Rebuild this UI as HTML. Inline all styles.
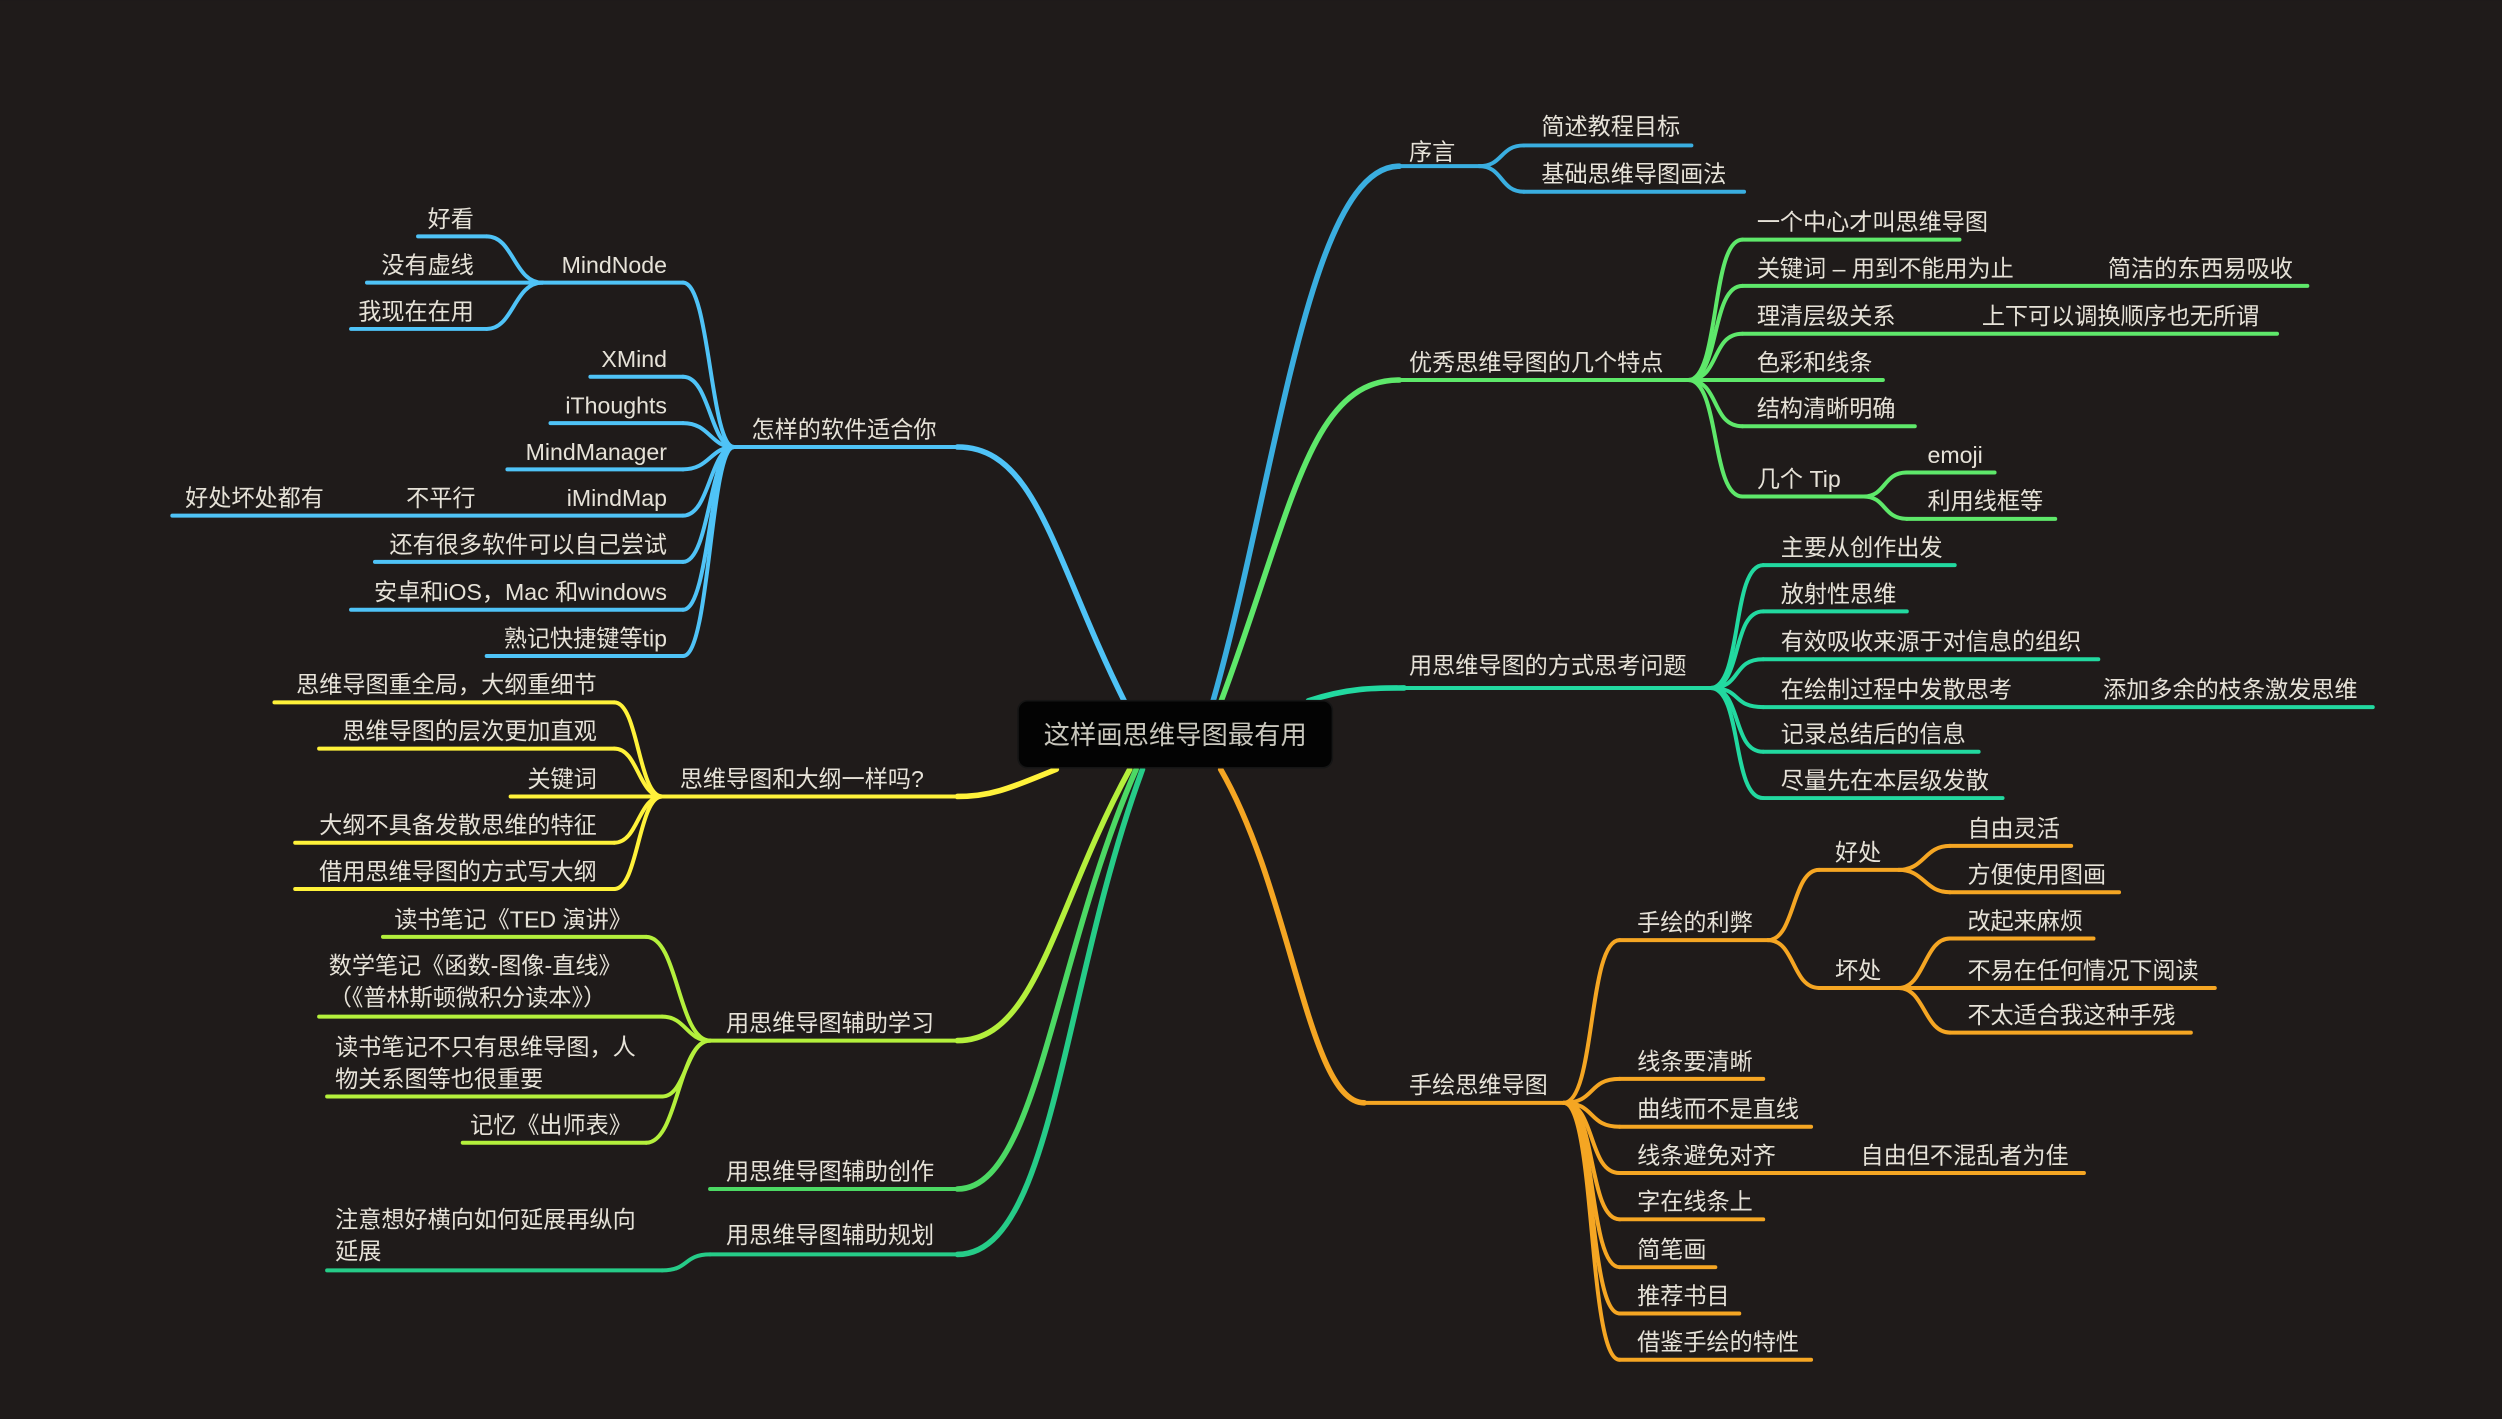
<!DOCTYPE html>
<html><head><meta charset="utf-8"><style>
html,body{margin:0;padding:0;background:#1f1b1a;}
svg{display:block}
text{font-family:"Liberation Sans","Noto Sans CJK SC",sans-serif;font-size:14.5px;fill:#e6e2d8;}
.l{text-anchor:end}
path,line{fill:none;stroke-linecap:round}
</style></head><body>
<svg width="2502" height="1419" viewBox="0 0 1568 889" xmlns="http://www.w3.org/2000/svg">
<rect width="1568" height="889" fill="#1f1b1a"/>

<!-- ===== RIGHT: 序言 (blue) ===== -->
<g stroke="#3aaee0">
<path d="M760 440 C800 300 820 104 877 104" stroke-width="3.5"/>
<line x1="877" y1="104" x2="927" y2="104" stroke-width="2.5"/>
<path d="M927 104 C942 104 940 91 955 91" stroke-width="2.5"/>
<path d="M927 104 C942 104 940 120 955 120" stroke-width="2.5"/>
<line x1="955" y1="91" x2="1060" y2="91" stroke-width="2.5"/>
<line x1="955" y1="120" x2="1093" y2="120" stroke-width="2.5"/>
</g>
<text x="883" y="100">序言</text>
<text x="966" y="84">简述教程目标</text>
<text x="966" y="114">基础思维导图画法</text>

<!-- ===== 优秀思维导图的几个特点 (green) ===== -->
<g stroke="#5ee86a" stroke-width="2.5">
<path d="M765 440 C810 320 820 238 877 238" stroke-width="3.5"/>
<line x1="877" y1="238" x2="1058" y2="238"/>
<path d="M1058 238 C1078 238 1072 150 1092 150"/><line x1="1092" y1="150" x2="1228" y2="150"/>
<path d="M1058 238 C1078 238 1072 179 1092 179"/><line x1="1092" y1="179" x2="1446" y2="179"/>
<path d="M1058 238 C1078 238 1072 209 1092 209"/><line x1="1092" y1="209" x2="1427" y2="209"/>
<line x1="1058" y1="238" x2="1180" y2="238"/>
<path d="M1058 238 C1078 238 1072 267 1092 267"/><line x1="1092" y1="267" x2="1200" y2="267"/>
<path d="M1058 238 C1078 238 1072 311 1092 311"/><line x1="1092" y1="311" x2="1168" y2="311"/>
<path d="M1168 311 C1182 311 1180 296 1195 296"/><line x1="1195" y1="296" x2="1250" y2="296"/>
<path d="M1168 311 C1182 311 1180 325 1195 325"/><line x1="1195" y1="325" x2="1288" y2="325"/>
</g>
<text x="883" y="232">优秀思维导图的几个特点</text>
<text x="1101" y="144">一个中心才叫思维导图</text>
<text x="1101" y="173">关键词 – 用到不能用为止</text>
<text x="1321" y="173">简洁的东西易吸收</text>
<text x="1101" y="203">理清层级关系</text>
<text x="1242" y="203">上下可以调换顺序也无所谓</text>
<text x="1101" y="232">色彩和线条</text>
<text x="1101" y="261">结构清晰明确</text>
<text x="1101" y="305">几个 Tip</text>
<text x="1208" y="290">emoji</text>
<text x="1208" y="319">利用线框等</text>

<!-- ===== 用思维导图的方式思考问题 (teal) ===== -->
<g stroke="#22d9a0" stroke-width="2.5">
<path d="M820 439 C845 431 860 431 880 431" stroke-width="3.5"/>
<line x1="820" y1="439" x2="880" y2="431" stroke-width="0"/>
<line x1="878" y1="431" x2="1072" y2="431"/>
<path d="M1072 431 C1092 431 1085 354 1105 354"/><line x1="1105" y1="354" x2="1225" y2="354"/>
<path d="M1072 431 C1092 431 1085 383 1105 383"/><line x1="1105" y1="383" x2="1195" y2="383"/>
<path d="M1072 431 C1092 431 1085 413 1105 413"/><line x1="1105" y1="413" x2="1315" y2="413"/>
<path d="M1072 431 C1092 431 1085 443 1105 443"/><line x1="1105" y1="443" x2="1487" y2="443"/>
<path d="M1072 431 C1092 431 1085 471 1105 471"/><line x1="1105" y1="471" x2="1240" y2="471"/>
<path d="M1072 431 C1092 431 1085 500 1105 500"/><line x1="1105" y1="500" x2="1255" y2="500"/>
</g>
<text x="883" y="422">用思维导图的方式思考问题</text>
<text x="1116" y="348">主要从创作出发</text>
<text x="1116" y="377">放射性思维</text>
<text x="1116" y="407">有效吸收来源于对信息的组织</text>
<text x="1116" y="437">在绘制过程中发散思考</text>
<text x="1318" y="437">添加多余的枝条激发思维</text>
<text x="1116" y="465">记录总结后的信息</text>
<text x="1116" y="494">尽量先在本层级发散</text>

<!-- ===== 手绘思维导图 (orange) ===== -->
<g stroke="#f5a623" stroke-width="2.5">
<path d="M765 482 C810 560 820 691 855 691" stroke-width="3.5"/>
<line x1="855" y1="691" x2="980" y2="691"/>
<path d="M980 691 C1000 691 995 589 1015 589"/><line x1="1015" y1="589" x2="1108" y2="589"/>
<path d="M1108 589 C1125 589 1123 545 1140 545"/><line x1="1140" y1="545" x2="1190" y2="545"/>
<path d="M1108 589 C1125 589 1123 619 1140 619"/><line x1="1140" y1="619" x2="1190" y2="619"/>
<path d="M1190 545 C1206 545 1206 530 1222 530"/><line x1="1222" y1="530" x2="1298" y2="530"/>
<path d="M1190 545 C1206 545 1206 559 1222 559"/><line x1="1222" y1="559" x2="1328" y2="559"/>
<path d="M1190 619 C1206 619 1206 588 1222 588"/><line x1="1222" y1="588" x2="1312" y2="588"/>
<line x1="1190" y1="619" x2="1388" y2="619"/>
<path d="M1190 619 C1206 619 1206 647 1222 647"/><line x1="1222" y1="647" x2="1373" y2="647"/>
<path d="M980 691 C1000 691 995 676 1015 676"/><line x1="1015" y1="676" x2="1105" y2="676"/>
<path d="M980 691 C1000 691 995 706 1015 706"/><line x1="1015" y1="706" x2="1135" y2="706"/>
<path d="M980 691 C1000 691 995 735 1015 735"/><line x1="1015" y1="735" x2="1306" y2="735"/>
<path d="M980 691 C1000 691 995 764 1015 764"/><line x1="1015" y1="764" x2="1105" y2="764"/>
<path d="M980 691 C1000 691 995 794 1015 794"/><line x1="1015" y1="794" x2="1075" y2="794"/>
<path d="M980 691 C1000 691 995 823 1015 823"/><line x1="1015" y1="823" x2="1090" y2="823"/>
<path d="M980 691 C1000 691 995 852 1015 852"/><line x1="1015" y1="852" x2="1135" y2="852"/>
</g>
<text x="883" y="685">手绘思维导图</text>
<text x="1026" y="583">手绘的利弊</text>
<text x="1150" y="539">好处</text>
<text x="1150" y="613">坏处</text>
<text x="1233" y="524">自由灵活</text>
<text x="1233" y="553">方便使用图画</text>
<text x="1233" y="582">改起来麻烦</text>
<text x="1233" y="613">不易在任何情况下阅读</text>
<text x="1233" y="641">不太适合我这种手残</text>
<text x="1026" y="670">线条要清晰</text>
<text x="1026" y="700">曲线而不是直线</text>
<text x="1026" y="729">线条避免对齐</text>
<text x="1166" y="729">自由但不混乱者为佳</text>
<text x="1026" y="758">字在线条上</text>
<text x="1026" y="788">简笔画</text>
<text x="1026" y="817">推荐书目</text>
<text x="1026" y="846">借鉴手绘的特性</text>

<!-- ===== LEFT: 怎样的软件适合你 (light blue) ===== -->
<g stroke="#4fc3f7" stroke-width="2.5">
<path d="M705 440 C660 350 650 280 600 280" stroke-width="3.5"/>
<line x1="460" y1="280" x2="600" y2="280"/>
<path d="M460 280 C445 280 445 177 428 177"/><line x1="340" y1="177" x2="428" y2="177"/>
<path d="M340 177 C322 177 322 148 305 148"/><line x1="262" y1="148" x2="305" y2="148"/>
<line x1="230" y1="177" x2="340" y2="177"/>
<path d="M340 177 C322 177 322 206 305 206"/><line x1="220" y1="206" x2="305" y2="206"/>
<path d="M460 280 C445 280 445 236 428 236"/><line x1="370" y1="236" x2="428" y2="236"/>
<path d="M460 280 C445 280 445 265 428 265"/><line x1="345" y1="265" x2="428" y2="265"/>
<path d="M460 280 C445 280 445 294 428 294"/><line x1="318" y1="294" x2="428" y2="294"/>
<path d="M460 280 C445 280 445 323 428 323"/><line x1="108" y1="323" x2="428" y2="323"/>
<path d="M460 280 C445 280 445 352 428 352"/><line x1="235" y1="352" x2="428" y2="352"/>
<path d="M460 280 C445 280 445 382 428 382"/><line x1="220" y1="382" x2="428" y2="382"/>
<path d="M460 280 C445 280 445 411 428 411"/><line x1="305" y1="411" x2="428" y2="411"/>
</g>
<text x="471" y="274">怎样的软件适合你</text>
<text class="l" x="418" y="171">MindNode</text>
<text class="l" x="297" y="142">好看</text>
<text class="l" x="297" y="171">没有虚线</text>
<text class="l" x="297" y="200">我现在在用</text>
<text class="l" x="418" y="230">XMind</text>
<text class="l" x="418" y="259">iThoughts</text>
<text class="l" x="418" y="288">MindManager</text>
<text class="l" x="418" y="317">iMindMap</text>
<text class="l" x="298" y="317">不平行</text>
<text class="l" x="203" y="317">好处坏处都有</text>
<text class="l" x="418" y="346">还有很多软件可以自己尝试</text>
<text class="l" x="418" y="376">安卓和iOS，Mac 和windows</text>
<text class="l" x="418" y="405">熟记快捷键等tip</text>

<!-- ===== 思维导图和大纲一样吗? (yellow) ===== -->
<g stroke="#fff23a" stroke-width="2.5">
<path d="M662 482 C630 495 620 499 600 499" stroke-width="3.5"/>
<line x1="415" y1="499" x2="600" y2="499"/>
<path d="M415 499 C400 499 400 440 385 440"/><line x1="172" y1="440" x2="385" y2="440"/>
<path d="M415 499 C400 499 400 469 385 469"/><line x1="200" y1="469" x2="385" y2="469"/>
<line x1="320" y1="499" x2="415" y2="499"/>
<path d="M415 499 C400 499 400 528 385 528"/><line x1="185" y1="528" x2="385" y2="528"/>
<path d="M415 499 C400 499 400 557 385 557"/><line x1="185" y1="557" x2="385" y2="557"/>
</g>
<text x="426" y="493">思维导图和大纲一样吗?</text>
<text class="l" x="374" y="434">思维导图重全局，大纲重细节</text>
<text class="l" x="374" y="463">思维导图的层次更加直观</text>
<text class="l" x="374" y="493">关键词</text>
<text class="l" x="374" y="522">大纲不具备发散思维的特征</text>
<text class="l" x="374" y="551">借用思维导图的方式写大纲</text>

<!-- ===== 用思维导图辅助学习 (lime) ===== -->
<g stroke="#b4f03c" stroke-width="2.5">
<path d="M708 482 C660 570 650 652 600 652" stroke-width="3.5"/>
<line x1="445" y1="652" x2="600" y2="652"/>
<path d="M445 652 C425 652 425 587 405 587"/><line x1="240" y1="587" x2="405" y2="587"/>
<path d="M445 652 C430 652 430 637 415 637"/><line x1="200" y1="637" x2="415" y2="637"/>
<path d="M445 652 C430 652 430 687 415 687"/><line x1="205" y1="687" x2="415" y2="687"/>
<path d="M445 652 C425 652 425 716 405 716"/><line x1="290" y1="716" x2="405" y2="716"/>
</g>
<text x="455" y="646">用思维导图辅助学习</text>
<text class="l" x="396" y="581">读书笔记《TED 演讲》</text>
<text x="206" y="610">数学笔记《函数-图像-直线》</text>
<text x="206" y="630">（《普林斯顿微积分读本》）</text>
<text x="210" y="661">读书笔记不只有思维导图，人</text>
<text x="210" y="681">物关系图等也很重要</text>
<text class="l" x="396" y="710">记忆《出师表》</text>

<!-- ===== 用思维导图辅助创作 (green) ===== -->
<g stroke="#4cd964">
<path d="M712 482 C660 600 650 745 600 745" stroke-width="3.5"/>
<line x1="445" y1="745" x2="600" y2="745" stroke-width="2.5"/>
</g>
<text x="455" y="739">用思维导图辅助创作</text>

<!-- ===== 用思维导图辅助规划 (teal green) ===== -->
<g stroke="#26cc88">
<path d="M716 482 C665 620 660 786 600 786" stroke-width="3.5"/>
<line x1="445" y1="786" x2="600" y2="786" stroke-width="2.5"/>
<path d="M445 786 C428 786 432 796 415 796" stroke-width="2.5"/>
<line x1="205" y1="796" x2="415" y2="796" stroke-width="2.5"/>
</g>
<text x="455" y="779">用思维导图辅助规划</text>
<text x="210" y="769">注意想好横向如何延展再纵向</text>
<text x="210" y="789">延展</text>

<!-- center -->
<rect x="638" y="439" width="197" height="42" rx="6" fill="#030303" stroke="#151515"/>
<text x="736.5" y="466" style="text-anchor:middle;font-size:16.5px;fill:#c8c6bc">这样画思维导图最有用</text>
</svg>
</body></html>
